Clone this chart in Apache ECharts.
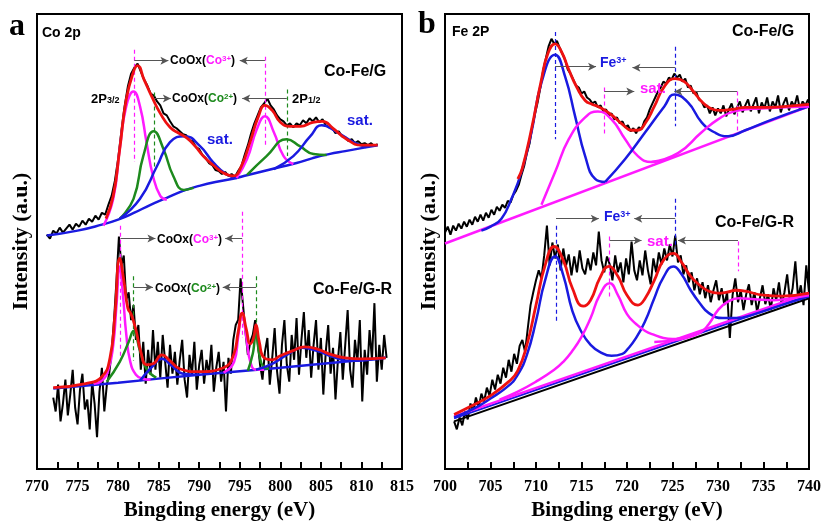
<!DOCTYPE html>
<html>
<head>
<meta charset="utf-8">
<script src="https://cdn.jsdelivr.net/npm/echarts@6/dist/echarts.min.js"></script>
<style>html,body{margin:0;padding:0;background:#fff}#chart{width:824px;height:526px}</style>
</head>
<body>
<div id="chart"></div>
<script>
// * XPS 图：a) Co 2p   b) Fe 2P
// ? 原始数据（等间距采样），起点 + 步长
const coTopStart = 771.2, coTopStep = 0.4
const coTopRaw = [236,232,240,237,243,238,242,246,241,247,244,250,246,252,249,255,251,258,256,266,
  275,290,312,340,365,385,398,404,408,400,392,386,378,376,370,366,358,356,350,345,
  343,340,337,336,331,330,324,322,316,313,308,306,301,300,297,299,295,297,294,300,
  305,316,326,338,348,356,364,368,373,366,362,356,352,350,346,348,344,348,346,351,
  348,353,350,354,349,352,346,344,343,338,340,335,334,330,332,328,330,327,328,326,
  328,325,327]
const coBotStart = 772.0, coBotStep = 0.3
const coBotRaw = [72,58,85,48,66,90,54,75,100,62,45,80,96,60,70,40,88,66,32,78,
  102,58,84,96,118,150,190,234,205,215,170,178,150,165,130,145,100,128,86,120,
  95,140,100,128,92,135,108,82,125,96,118,85,110,130,90,72,115,95,128,80,
  105,120,86,110,95,125,78,102,118,88,108,58,112,96,130,145,150,192,165,138,
  115,128,135,150,128,105,90,118,132,85,112,142,98,76,125,150,105,88,135,110,
  152,95,130,158,112,140,92,125,150,100,132,75,118,145,96,122,70,110,138,90,
  125,160,100,82,130,108,150,68,120,95,140,110,167,88,125,100,135,112]
const feTopStart = 700.0, feTopStep = 0.3
const feTopRaw = [238,244,236,245,240,247,242,249,244,251,246,254,249,256,250,258,253,261,256,264,
  260,266,263,270,268,276,280,286,296,305,318,328,345,358,370,385,402,414,426,433,
  428,431,424,418,412,402,398,392,386,384,378,380,374,372,368,370,364,366,360,362,
  356,358,352,354,348,350,344,346,340,343,338,344,342,350,354,362,368,374,380,384,
  390,388,394,392,398,394,397,390,393,384,386,378,380,372,370,364,366,358,364,356,
  363,358,366,355,362,368,357,364,370,359,366,372,360,367,374,358,369,363,374,360,
  370,364,376,359,368,374,361,370,365,376,362,370,366,372]
const feBotStart = 701.0, feBotStep = 0.3
const feBotRaw = [48,40,52,44,58,50,66,58,72,62,76,68,82,74,90,80,95,86,102,92,
  110,98,116,106,124,130,118,142,165,178,190,200,192,215,245,205,228,212,226,200,
  222,205,216,195,214,198,220,202,196,212,200,218,205,239,210,198,214,206,190,215,
  198,208,188,212,196,229,200,190,210,195,220,200,186,212,198,218,206,222,210,226,
  214,235,208,215,196,205,188,198,180,192,176,188,172,185,168,180,190,170,182,165,
  178,132,175,192,168,180,160,176,186,165,178,158,172,185,166,176,160,182,170,188,
  165,178,196,170,182,209,172,185,165,205,178]

// ? 拟合曲线 [结合能, 强度]
const coTopBase = [[771.2,235],[775,240],[778,246],[780,251],[782,258],[784,266],[786,273],[788,280],[790,285],[792,289],[794,292],[796,296],[798,300],[800,304],[802,308],[804,313],[806,317],[808,320],[810,323],[812,326]]
const coTopFit = [[778.5,252],[779.4,275],[780.2,322],[781.0,372],[781.9,400],[782.4,406],[783.2,392],[784.2,374],[785.2,358],[786.4,344],[787.5,338],[788.5,333],[789.5,325],[790.5,315],[791.7,306],[793,298],[794.2,295],[795.2,305],[796.3,330],[797.3,355],[798.1,366],[799,361],[800,349],[801.2,345],[802.5,345],[804,349],[805.2,350],[806.5,343],[808,333],[810,326],[812,326]]
const coTopCo3a = [[778.2,245],[779.4,272],[780.2,322],[781.0,365],[781.9,380],[782.7,365],[783.5,329],[784.3,295],[785.2,275],[786.0,271]]
const coTopCo2a = [[780.2,252],[781.9,272],[783.1,315],[784.4,340],[785.6,322],[786.8,295],[788.1,281],[789.3,283]]
const coTopSatA = [[780.2,252],[782.7,272],[784.8,305],[786.4,329],[788.2,335],[790.1,325],[791.7,309],[793.3,297],[794.6,293]]
const coTopCo3b = [[794.6,293],[795.9,312],[797.1,342],[798.1,355],[799.2,339],[800.4,315],[801.6,307]]
const coTopCo2b = [[795.9,296],[798.3,315],[800.8,332],[802.4,325],[804.1,317],[805.7,316]]
const coTopSatB = [[799.2,302],[801.6,315],[803.7,335],[805.1,346],[807.0,339],[809.0,329],[810.6,324]]

const coBotBase = [[772,81],[780,87],[790,95],[800,102],[813,112]]
const coBotFit = [[772,82],[776,86],[778,93],[779,112],[779.6,155],[780.2,212],[780.7,190],[781.2,162],[781.6,156],[782.2,140],[782.8,118],[783.5,105],[784.3,106],[785.4,115],[786.4,109],[787.6,101],[790,98],[793,102],[794.2,114],[794.8,138],[795.3,157],[795.8,141],[796.3,126],[796.7,132],[797.0,145],[797.4,128],[798,112],[799,110],[800,114],[801.5,119],[803,123],[804.5,121],[806,116],[808,112],[810,111],[813,112]]
const coBotCo3a = [[777,86],[778,89],[778.8,100],[779.4,125],[779.8,165],[780.2,204],[780.6,175],[781.0,136],[781.5,108],[782.2,95],[783,91],[784,90]]
const coBotCo2a = [[778.6,88],[780.2,108],[781.3,128],[781.9,139],[782.7,119],[783.5,101],[784.7,92]]
const coBotSatA = [[782.7,89],[784.3,104],[785.4,111],[786.6,104],[788.0,96],[790,95]]
const coBotCo3b = [[793.0,97],[794.3,108],[794.8,133],[795.3,157],[795.8,133],[796.3,108],[797,100],[798,100]]
const coBotCo2b = [[796.0,99],[796.6,116],[797.0,137],[797.4,116],[797.9,103],[798.6,101]]
const coBotSatB = [[797,100],[799,106],[801,116],[802.7,122],[804.5,119],[806.5,113],[808.5,109],[811,110],[813,112]]

const feTopBase = [[700,227],[740,365]]
const feTopFit = [[708,292],[708.5,303],[709.5,342],[710.6,392],[711.3,418],[712.1,428],[712.8,420],[713.6,402],[714.5,384],[715.4,371],[716.2,367],[716.8,365],[717.6,361],[718.5,355],[719.5,347],[720.5,341],[721.2,341],[722,348],[723,365],[724.1,385],[725.3,393],[726.3,390],[727.3,380],[728.2,370],[729.2,363],[730.2,361],[731.5,362],[733,364],[735,364],[737.5,365],[740,367]]
const feTopFe1 = [[704,240],[705,244],[706.2,252],[707.3,272],[708.4,299],[709.5,339],[710.6,389],[712.1,417],[713.2,395],[714.3,355],[715.4,315],[716.5,292],[717.6,289]]
const feTopSat1 = [[710.6,266],[712.1,299],[713.6,332],[715.4,354],[716.8,360],[718.3,352],[719.8,332],[721.2,315],[722.7,309],[724,311]]
const feTopFe2 = [[717.6,289],[719.8,312],[722.0,339],[724.1,365],[725.2,377],[726.7,369],[728.2,349],[729.6,339],[731.1,335],[733,341],[736,352],[740,365]]
const feTopSat2 = [[722.7,309],[725.6,318],[728.2,339],[730.0,352],[731.8,360],[734.7,363],[740,365]]

const feBotBaseK = [[701,48],[740,172]]
const feBotBaseB = [[701,51],[740,175]]
const feBotBaseM = [[701,53],[740,177]]
const feBotFit = [[701,55],[703,64],[705,74],[707,88],[708,99],[709,125],[710,165],[711,205],[712,224],[713,210],[714,182],[715.2,164],[716,170],[717,192],[718,204],[719,194],[720,175],[721.2,165],[722,172],[723,190],[724,210],[725.1,217],[726,208],[727,194],[728,185],[729,179],[730,177],[731,178],[732,180],[733,179],[735,175],[737,174],[740,177]]
const feBotFe = [[701,52],[703,60],[705,71],[707,84],[708,95],[709,115],[710,149],[711,190],[712.1,214],[713,195],[714,159],[715,138],[716,125],[717,118],[718.3,114],[719.5,116],[720,120],[721,132],[722,149],[723,172],[724,193],[725.1,204],[726,196],[727,180],[728,167],[729,157],[730.5,152],[732,152],[734,156],[736,162],[738,168],[740,174]]
const feBotSat1 = [[706,70],[708,78],[710,88],[712,100],[713,108],[714,119],[715,133],[716,152],[717,175],[718.1,187],[719,175],[720,156],[721,146],[722,139],[723,135],[724,132],[725,131],[726,132],[727,134]]
const feBotSat2 = [[723,128],[726,131],[728,137],[729,146],[730,160],[731,168],[732.3,172],[734,171],[736,170],[738,172],[740,175]]

const xTicksA = [770, 815, 5]
const xTicksB = [700, 740, 5]

// 颜色
const RED = '#ee1111', MAG = '#ff1aff', GRN = '#1d8a1d', BLU = '#1a1ae0', BLK = '#000'

const rawPairs = (start, step, vals) => vals.map((v, i) => [+(start + i * step).toFixed(2), v])

function curve(idx, data, color, width, smooth, z, extra) {
  return Object.assign({
    type: 'line', xAxisIndex: idx, yAxisIndex: idx, data,
    symbol: 'none', smooth: smooth, silent: true, z: z,
    lineStyle: { color, width }
  }, extra || {})
}

// 虚线（竖线）
const dash = (e, y1, y2, color) => [{ coord: [e, y1], lineStyle: { color, type: [4, 3], width: 1.2 } }, { coord: [e, y2] }]
// 箭头
const arrow = (e1, e2, y) => [{ coord: [e1, y], symbol: 'none', lineStyle: { color: '#555', width: 1, type: 'solid' } }, { coord: [e2, y], symbol: 'arrow' }]

const markA = {
  silent: true, symbol: ['none', 'none'], symbolSize: [6, 8], label: { show: false },
  data: [
    dash(782.0, 422, 309, MAG), dash(798.1, 415, 325, MAG),
    dash(784.4, 379, 302, GRN), dash(800.8, 382, 315, GRN),
    dash(780.3, 245, 112, MAG), dash(795.3, 259, 132, MAG),
    dash(781.9, 194, 109, GRN), dash(797.0, 194, 132, GRN),
    arrow(782.0, 786.2, 411), arrow(798.1, 795.0, 411),
    arrow(784.4, 786.5, 373), arrow(800.8, 795.3, 373),
    arrow(780.3, 784.6, 232), arrow(795.3, 793.2, 232),
    arrow(781.9, 784.3, 183), arrow(797.0, 792.9, 183)
  ]
}
const markB = {
  silent: true, symbol: ['none', 'none'], symbolSize: [6, 8], label: { show: false },
  data: [
    dash(712.1, 440, 332, BLU), dash(725.3, 425, 345, BLU),
    dash(717.5, 384, 335, MAG), dash(732.1, 380, 340, MAG),
    dash(712.2, 245, 149, BLU), dash(725.3, 272, 222, BLU),
    dash(718.1, 234, 172, MAG), dash(732.2, 229, 199, MAG),
    arrow(712.1, 716.6, 405), arrow(725.3, 720.6, 404),
    arrow(717.5, 720.8, 380), arrow(732.1, 725.2, 380),
    arrow(712.2, 716.9, 252), arrow(725.3, 720.8, 252),
    arrow(718.1, 721.6, 230), arrow(732.2, 725.6, 230)
  ]
}

const series = [
  // a 上
  curve(0, rawPairs(coTopStart, coTopStep, coTopRaw), BLK, 2, false, 2),
  curve(0, coTopBase, BLU, 2.5, true, 3, { markLine: markA }),
  curve(0, coTopCo3a, MAG, 2.5, true, 4), curve(0, coTopCo2a, GRN, 2.5, true, 4), curve(0, coTopSatA, BLU, 2.5, true, 4),
  curve(0, coTopCo3b, MAG, 2.5, true, 4), curve(0, coTopCo2b, GRN, 2.5, true, 4), curve(0, coTopSatB, BLU, 2.5, true, 4),
  curve(0, coTopFit, RED, 2.8, true, 5),
  // a 下
  curve(0, rawPairs(coBotStart, coBotStep, coBotRaw), BLK, 2, false, 2),
  curve(0, coBotBase, BLU, 2.5, true, 3),
  curve(0, coBotCo3a, MAG, 2.5, true, 4), curve(0, coBotCo2a, GRN, 2.5, true, 4), curve(0, coBotSatA, BLU, 2.5, true, 4),
  curve(0, coBotCo3b, MAG, 2.5, true, 4), curve(0, coBotCo2b, GRN, 2.5, true, 4), curve(0, coBotSatB, BLU, 2.5, true, 4),
  curve(0, coBotFit, RED, 2.8, true, 5),
  // b 上
  curve(1, rawPairs(feTopStart, feTopStep, feTopRaw), BLK, 2, false, 2),
  curve(1, feTopBase, MAG, 2.5, false, 3, { markLine: markB }),
  curve(1, feTopFe1, BLU, 2.5, true, 4), curve(1, feTopSat1, MAG, 2.5, true, 4),
  curve(1, feTopFe2, BLU, 2.5, true, 4), curve(1, feTopSat2, MAG, 2.5, true, 4),
  curve(1, feTopFit, RED, 2.8, true, 5),
  // b 下
  curve(1, rawPairs(feBotStart, feBotStep, feBotRaw), BLK, 2, false, 2),
  curve(1, feBotBaseK, BLK, 2, false, 3), curve(1, feBotBaseB, BLU, 2, false, 3), curve(1, feBotBaseM, MAG, 2.5, false, 3),
  curve(1, feBotFe, BLU, 2.5, true, 4), curve(1, feBotSat1, MAG, 2.5, true, 4), curve(1, feBotSat2, MAG, 2.5, true, 4),
  curve(1, feBotFit, RED, 2.8, true, 5)
]

function makeXAxis(idx, t) {
  return {
    type: 'value', gridIndex: idx, min: t[0], max: t[1], interval: t[2],
    name: 'Bingding energy (eV)', nameLocation: 'middle', nameGap: 30,
    nameTextStyle: { fontFamily: 'Liberation Serif', fontWeight: 'bold', fontSize: 21, color: '#000' },
    axisLine: { show: true, lineStyle: { color: '#000', width: 2 } },
    axisTick: { show: true, inside: true, length: 7, lineStyle: { color: '#000', width: 2 } },
    minorTick: { show: true, splitNumber: 2, length: 7, lineStyle: { color: '#000', width: 2 } },
    axisLabel: { fontFamily: 'Liberation Serif', fontWeight: 'bold', fontSize: 16, color: '#000', margin: 10 },
    splitLine: { show: false }
  }
}
function makeYAxis(idx) {
  return {
    type: 'value', gridIndex: idx, min: 0, max: 458,
    name: 'Intensity (a.u.)', nameLocation: 'middle', nameGap: 5,
    nameTextStyle: { fontFamily: 'Liberation Serif', fontWeight: 'bold', fontSize: 22, color: '#000' },
    axisLine: { show: true, lineStyle: { color: '#000', width: 2 } },
    axisTick: { show: false }, axisLabel: { show: false }, splitLine: { show: false }
  }
}

// 文字标注（用 title 组件）
const sans = 'Liberation Sans'
const rich = {
  k: { fontFamily: sans, fontWeight: 'bold', fontSize: 12, color: '#000' },
  m: { fontFamily: sans, fontWeight: 'bold', fontSize: 12, color: MAG },
  g: { fontFamily: sans, fontWeight: 'bold', fontSize: 12, color: GRN },
  ms: { fontFamily: sans, fontWeight: 'bold', fontSize: 8, color: MAG, verticalAlign: 'top' },
  gs: { fontFamily: sans, fontWeight: 'bold', fontSize: 8, color: GRN, verticalAlign: 'top' },
  p: { fontFamily: sans, fontWeight: 'bold', fontSize: 13, color: '#000' },
  ks: { fontFamily: sans, fontWeight: 'bold', fontSize: 9, color: '#000', verticalAlign: 'bottom' },
  b: { fontFamily: sans, fontWeight: 'bold', fontSize: 14, color: BLU },
  bs: { fontFamily: sans, fontWeight: 'bold', fontSize: 9, color: BLU, verticalAlign: 'top' }
}
function note(x, yMid, text, size, color, fam) {
  return {
    text, left: x, top: yMid - size / 2, padding: 0,
    textStyle: { fontFamily: fam || sans, fontWeight: 'bold', fontSize: size, color: color || '#000', rich }
  }
}

const titles = [
  note(9, 27, 'a', 32, '#000', 'Liberation Serif'),
  note(418, 25, 'b', 32, '#000', 'Liberation Serif'),
  note(42, 33, 'Co 2p', 14),
  note(324, 72, 'Co-Fe/G', 16),
  note(313, 290, 'Co-Fe/G-R', 16),
  note(170, 61, '{k|CoOx(}{m|Co}{ms|3+}{k|)}', 12),
  note(172, 99, '{k|CoOx(}{g|Co}{gs|2+}{k|)}', 12),
  note(157, 240, '{k|CoOx(}{m|Co}{ms|3+}{k|)}', 12),
  note(155, 289, '{k|CoOx(}{g|Co}{gs|2+}{k|)}', 12),
  note(91, 99, '{p|2P}{ks|3/2}', 13),
  note(292, 99, '{p|2P}{ks|1/2}', 13),
  note(207, 140, 'sat.', 15, BLU),
  note(347, 121, 'sat.', 15, BLU),
  note(452, 32, 'Fe 2P', 14),
  note(732, 32, 'Co-Fe/G', 16),
  note(715, 223, 'Co-Fe/G-R', 16),
  note(600, 63, '{b|Fe}{bs|3+}', 14),
  note(604, 217, '{b|Fe}{bs|3+}', 14),
  note(640, 89, 'sat.', 15, MAG),
  note(647, 242, 'sat.', 15, MAG)
]

const chart = echarts.init(document.getElementById('chart'))
chart.setOption({
  animation: false,
  backgroundColor: '#fff',
  title: titles,
  grid: [
    { left: 37, right: 422, top: 14, bottom: 54, show: true, borderColor: '#000', borderWidth: 2 },
    { left: 445, right: 14, top: 14, bottom: 54, show: true, borderColor: '#000', borderWidth: 2 }
  ],
  xAxis: [makeXAxis(0, xTicksA), makeXAxis(1, xTicksB)],
  yAxis: [makeYAxis(0), makeYAxis(1)],
  series
})
</script>
</body>
</html>
